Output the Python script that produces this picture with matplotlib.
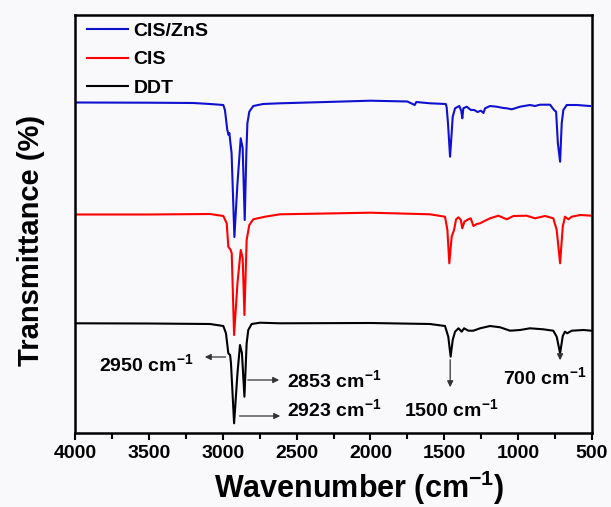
import matplotlib
matplotlib.use("Agg")
import matplotlib.pyplot as plt

# =================
# DANE (jednostki umowne)
# =================
zns_wn = [4000, 3500, 3200, 3086, 2996, 2985, 2969, 2960, 2955, 2950, 2940, 2921, 2900,
          2878, 2865, 2851, 2840, 2833, 2820, 2793, 2727, 2612, 2300, 2000, 1750, 1700,
          1690, 1597, 1490, 1484, 1475, 1461, 1450, 1443, 1427, 1398, 1385, 1378, 1371,
          1348, 1320, 1297, 1275, 1252, 1235, 1224, 1190, 1145, 1100, 1077, 1043, 987,
          920, 886, 852, 784, 757, 743, 731, 716, 705, 694, 671, 603, 514]
zns_t = [330.5, 330.3, 330, 329, 328, 323, 303, 298, 300, 293, 280, 196, 250,
         294.7, 285, 213, 280, 309.7, 321.3, 327, 329, 329.7, 331, 332.3, 331.5, 328,
         331, 329.7, 329, 326, 310, 276.3, 300, 316.3, 324.7, 327, 322, 314.7, 324.7,
         326.3, 323, 323, 321, 322.3, 320, 324.7, 327, 326.3, 325, 324.7, 323.7, 326.3,
         328, 327, 328.3, 328.3, 323, 321.3, 289.7, 271.3, 309.7, 323, 328, 328, 327]

cis_wn = [4000, 3500, 3086, 2996, 2973, 2962, 2946, 2939, 2923, 2900, 2878, 2865, 2853,
          2838, 2820, 2793, 2713, 2612, 2000, 1597, 1495, 1479, 1466, 1450, 1434, 1420,
          1404, 1388, 1378, 1364, 1337, 1321, 1303, 1280, 1258, 1224, 1190, 1134, 1077,
          1032, 942, 886, 818, 762, 739, 716, 698, 683, 660, 637, 581, 502]
cis_t = [218.5, 218.5, 219, 217, 209.7, 186.3, 183, 179.7, 98, 150, 183, 175, 118,
         193, 208, 213.7, 216.3, 218.7, 220.3, 218.7, 216.3, 203, 169.7, 196.3, 203, 213.7,
         215.7, 213, 204.7, 211.3, 213.7, 214.7, 207, 209, 209.7, 212.3, 214.7, 217.3, 213.7,
         217, 217.3, 214.7, 217, 214.7, 203, 169.7, 206.3, 216.3, 213.7, 216.3, 218, 217.3]

ddt_wn = [4000, 3500, 3086, 2996, 2978, 2962, 2950, 2944, 2923, 2900, 2883, 2870, 2853,
          2838, 2827, 2804, 2747, 2612, 2000, 1597, 1495, 1473, 1457, 1443, 1427, 1404,
          1382, 1366, 1337, 1303, 1258, 1190, 1122, 1055, 987, 920, 830, 762, 739, 716,
          698, 683, 668, 637, 558, 502]
ddt_t = [109.7, 109.5, 109, 107, 99.7, 79.7, 78, 69.7, 9.7, 60, 88, 80, 36.3,
         89.7, 103, 109, 110.3, 109.7, 110, 109, 107, 96.3, 76.3, 93, 101.3, 104.7,
         101.3, 104.7, 102.3, 102.3, 104.7, 107, 105.7, 102.3, 103, 104.7, 103.7, 102.3, 96.3, 79.7,
         97, 101.3, 99.7, 102.3, 103, 102.3]

x_ticks = [4000, 3500, 3000, 2500, 2000, 1500, 1000, 500]

# =================
# STYL
# =================
plt.rcParams["font.family"] = ["Liberation Sans", "DejaVu Sans"]
plt.rcParams["font.weight"] = "bold"
plt.rcParams["mathtext.fontset"] = "custom"
plt.rcParams["mathtext.rm"] = "Liberation Sans:bold"
plt.rcParams["mathtext.bf"] = "Liberation Sans:bold"
plt.rcParams["mathtext.default"] = "bf"

bg = "#f9f9fb"
fig = plt.figure(figsize=(6.11, 5.07), dpi=100, facecolor=bg)
ax = fig.add_axes([75 / 611, 1 - 433 / 507, 517 / 611, 418 / 507], facecolor=bg)

ax.plot(zns_wn, zns_t, color="#1010d0", lw=1.5, label="CIS/ZnS")
ax.plot(cis_wn, cis_t, color="#ff0000", lw=1.5, label="CIS")
ax.plot(ddt_wn, ddt_t, color="black", lw=1.5, label="DDT")

ax.set_xlim(4000, 500)
ax.set_ylim(0, 418)
ax.set_xticks(x_ticks)
ax.set_xticks([3750, 3250, 2750, 2250, 1750, 1250, 750], minor=True)
ax.set_yticks([])
ax.tick_params(axis="x", which="major", direction="out", length=5, width=1.5,
               labelsize=14, pad=4)
ax.tick_params(axis="x", which="minor", direction="out", length=4, width=1.5)
for lab in ax.get_xticklabels():
    lab.set_fontweight("bold")
for s in ax.spines.values():
    s.set_linewidth(1.8)

ax.set_xlabel("Wavenumber (cm$^{-1}$)", fontsize=22, fontweight="bold")
ax.xaxis.set_label_coords(0.55, -0.085)
ax.set_ylabel("Transmittance (%)", fontsize=21, fontweight="bold")
ax.yaxis.set_label_coords(-0.058, 0.46)

leg = ax.legend(loc="upper left", bbox_to_anchor=(0.0, 1.01), frameon=False,
                fontsize=14, handlelength=2.1, handletextpad=0.3,
                labelspacing=0.55, borderaxespad=0.2)
for t in leg.get_texts():
    t.set_fontweight("bold")

# =================
# ADNOTACJE
# =================
arrow = dict(arrowstyle="-|>", color="#333333", lw=0.9, mutation_scale=9)
fs = 14

ax.annotate("", xy=(3140, 76), xytext=(2962, 76), arrowprops=arrow)
ax.text(3201, 69, "2950 cm$^{-1}$", ha="right", va="center", fontsize=fs, fontweight="bold")

ax.annotate("", xy=(2599, 53), xytext=(2849, 53), arrowprops=arrow)
ax.text(2565, 53, "2853 cm$^{-1}$", ha="left", va="center", fontsize=fs, fontweight="bold")

ax.annotate("", xy=(2592, 17), xytext=(2905, 17), arrowprops=arrow)
ax.text(2565, 24, "2923 cm$^{-1}$", ha="left", va="center", fontsize=fs, fontweight="bold")

ax.annotate("", xy=(1460, 43), xytext=(1460, 76), arrowprops=arrow)
ax.text(1451, 24, "1500 cm$^{-1}$", ha="center", va="center", fontsize=fs, fontweight="bold")

ax.annotate("", xy=(716, 70), xytext=(716, 79), arrowprops=arrow)
ax.text(821, 56, "700 cm$^{-1}$", ha="center", va="center", fontsize=fs, fontweight="bold")

fig.savefig("out.png", dpi=100, facecolor=bg)
